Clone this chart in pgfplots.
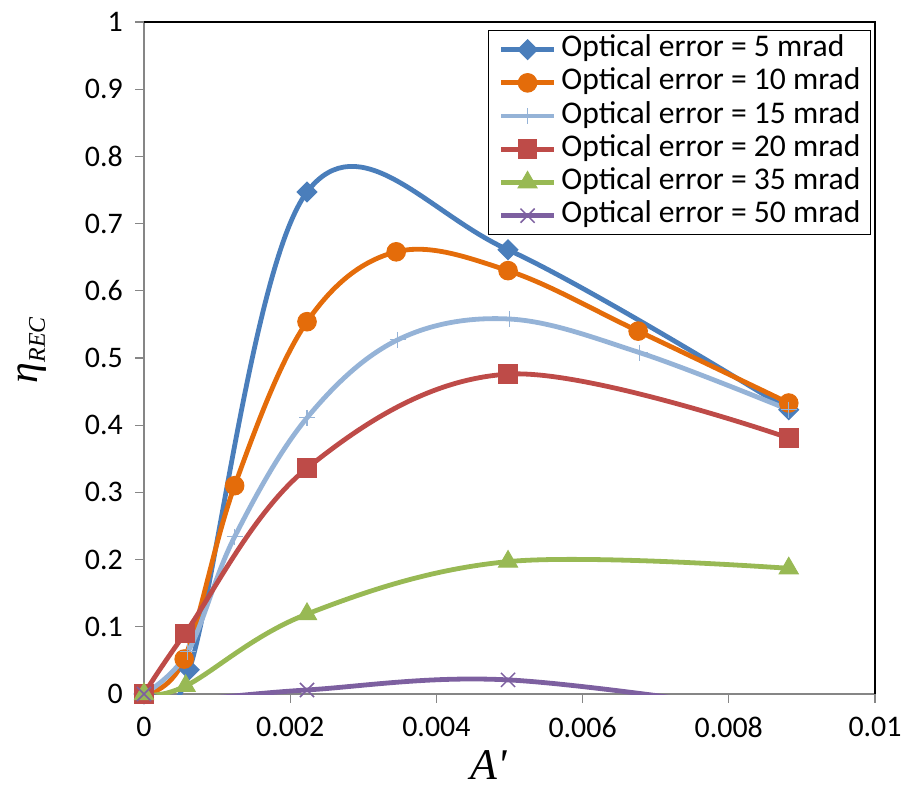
\documentclass[border=0pt]{standalone}
\usepackage{pgfplots}
\pgfplotsset{compat=1.18}
\usepackage{fontspec}
\setmainfont{Carlito}
\newfontfamily\lserif{Liberation Serif}
\definecolor{c1}{HTML}{4A7EBB}
\definecolor{c2}{HTML}{E46C0A}
\definecolor{c3}{HTML}{95B3D7}
\definecolor{c4}{HTML}{BE4B48}
\definecolor{c5}{HTML}{98B954}
\definecolor{c6}{HTML}{7D60A0}
\definecolor{axgray}{HTML}{868686}
\begin{document}
\begin{tikzpicture}
\path[use as bounding box] (-144bp,-96bp) rectangle (764bp,694bp);
\begin{axis}[
 name=ax,
 at={(0,0)}, anchor=south west,
 scale only axis, width=731bp, height=672bp,
 xmin=0, xmax=0.01, ymin=0, ymax=1,
 scaled x ticks=false, scaled y ticks=false,
 xtick={0,0.002,0.004,0.006,0.008,0.01},
 xticklabels={0,0.002,0.004,0.006,0.008,0.01},
 ytick={0,0.1,0.2,0.3,0.4,0.5,0.6,0.7,0.8,0.9,1},
 yticklabels={0,0.1,0.2,0.3,0.4,0.5,0.6,0.7,0.8,0.9,1},
 tick pos=left, tick align=outside,
 major tick length=9bp,
 tick style={axgray, line width=1.3bp},
 axis line style={axgray, line width=1.3bp},
 tick label style={font=\fontsize{30}{30}\selectfont},
 yticklabel style={inner sep=0pt, xshift=-12bp},
 xticklabel style={inner sep=0pt, yshift=-14bp},
 xlabel={{\lserif\itshape A\textquotesingle}},
 xlabel style={at={(rel axis cs:0.472,-0.106)}, anchor=center, font=\fontsize{44}{44}\selectfont},
 ylabel={{\lserif\itshape η\textsubscript{\fontsize{24}{24}\selectfont REC}}},
 ylabel style={at={(rel axis cs:-0.153,0.512)}, anchor=center, font=\fontsize{42}{42}\selectfont},
 every axis plot/.append style={line width=4.8bp, smooth, tension=0.6},
 legend cell align=left,
 legend style={at={(rel axis cs:0.9945,0.988)}, anchor=north east,
   font=\fontsize{31.7}{31.7}\selectfont, draw=black, line width=1.2bp,
   inner xsep=10bp, inner ysep=4bp, row sep=3.2bp, column sep=5bp,
   nodes={inner sep=0pt, text height=22bp, text depth=8bp}},
 legend image code/.code={\draw[mark repeat=2,mark phase=2] plot coordinates {(0bp,0bp)(26.5bp,0bp)(53bp,0bp)};},
]
\addplot[c1, mark=square*, mark size=7bp, mark options={solid, rotate=45, fill=c1, line width=1bp}] coordinates {
 (0,0) (0.00062,0.036) (0.00223,0.747) (0.00498,0.661) (0.00882,0.423)};
\addlegendentry{Optical error = 5 mrad}
\addplot[c2, mark=*, mark size=9.3bp, mark options={solid, fill=c2, line width=1bp}] coordinates {
 (0,0) (0.00055,0.052) (0.00124,0.31) (0.00223,0.554) (0.00345,0.658) (0.00498,0.63) (0.00676,0.54) (0.00882,0.433)};
\addlegendentry{Optical error = 10 mrad}
\addplot[c3, mark=+, mark size=8bp, mark options={solid, line width=1.2bp}] coordinates {
 (0,0) (0.0006,0.063) (0.00124,0.234) (0.00223,0.411) (0.00347,0.527) (0.005,0.558) (0.00678,0.508) (0.00882,0.423)};
\addlegendentry{Optical error = 15 mrad}
\addplot[c4, mark=square*, mark size=9.3bp, mark options={solid, fill=c4, line width=1bp}] coordinates {
 (0,0) (0.00056,0.09) (0.00223,0.336) (0.00498,0.476) (0.00882,0.381)};
\addlegendentry{Optical error = 20 mrad}
\addplot[c5, mark=triangle*, mark size=11bp, mark options={solid, fill=c5, line width=1bp}] coordinates {
 (0,0) (0.00057,0.012) (0.00223,0.119) (0.00498,0.197) (0.00882,0.187)};
\addlegendentry{Optical error = 35 mrad}
\addplot[c6, forget plot] coordinates {
 (0,0) (0.0006,-0.008) (0.00223,0.006) (0.00498,0.021) (0.00882,-0.03)};
\addplot[c6, only marks, mark=x, mark size=10bp, mark options={solid, line width=1.5bp}, forget plot] coordinates {
 (0,0) (0.00223,0.006) (0.00498,0.021)};
\addlegendimage{c6, line width=4.8bp, mark=x, mark size=10bp, mark options={solid, line width=1.5bp}}
\addlegendentry{Optical error = 50 mrad}
\end{axis}
\draw[black, line width=1.3bp] (ax.north west) -- (ax.north east) -- (ax.south east);
\end{tikzpicture}
\end{document}
